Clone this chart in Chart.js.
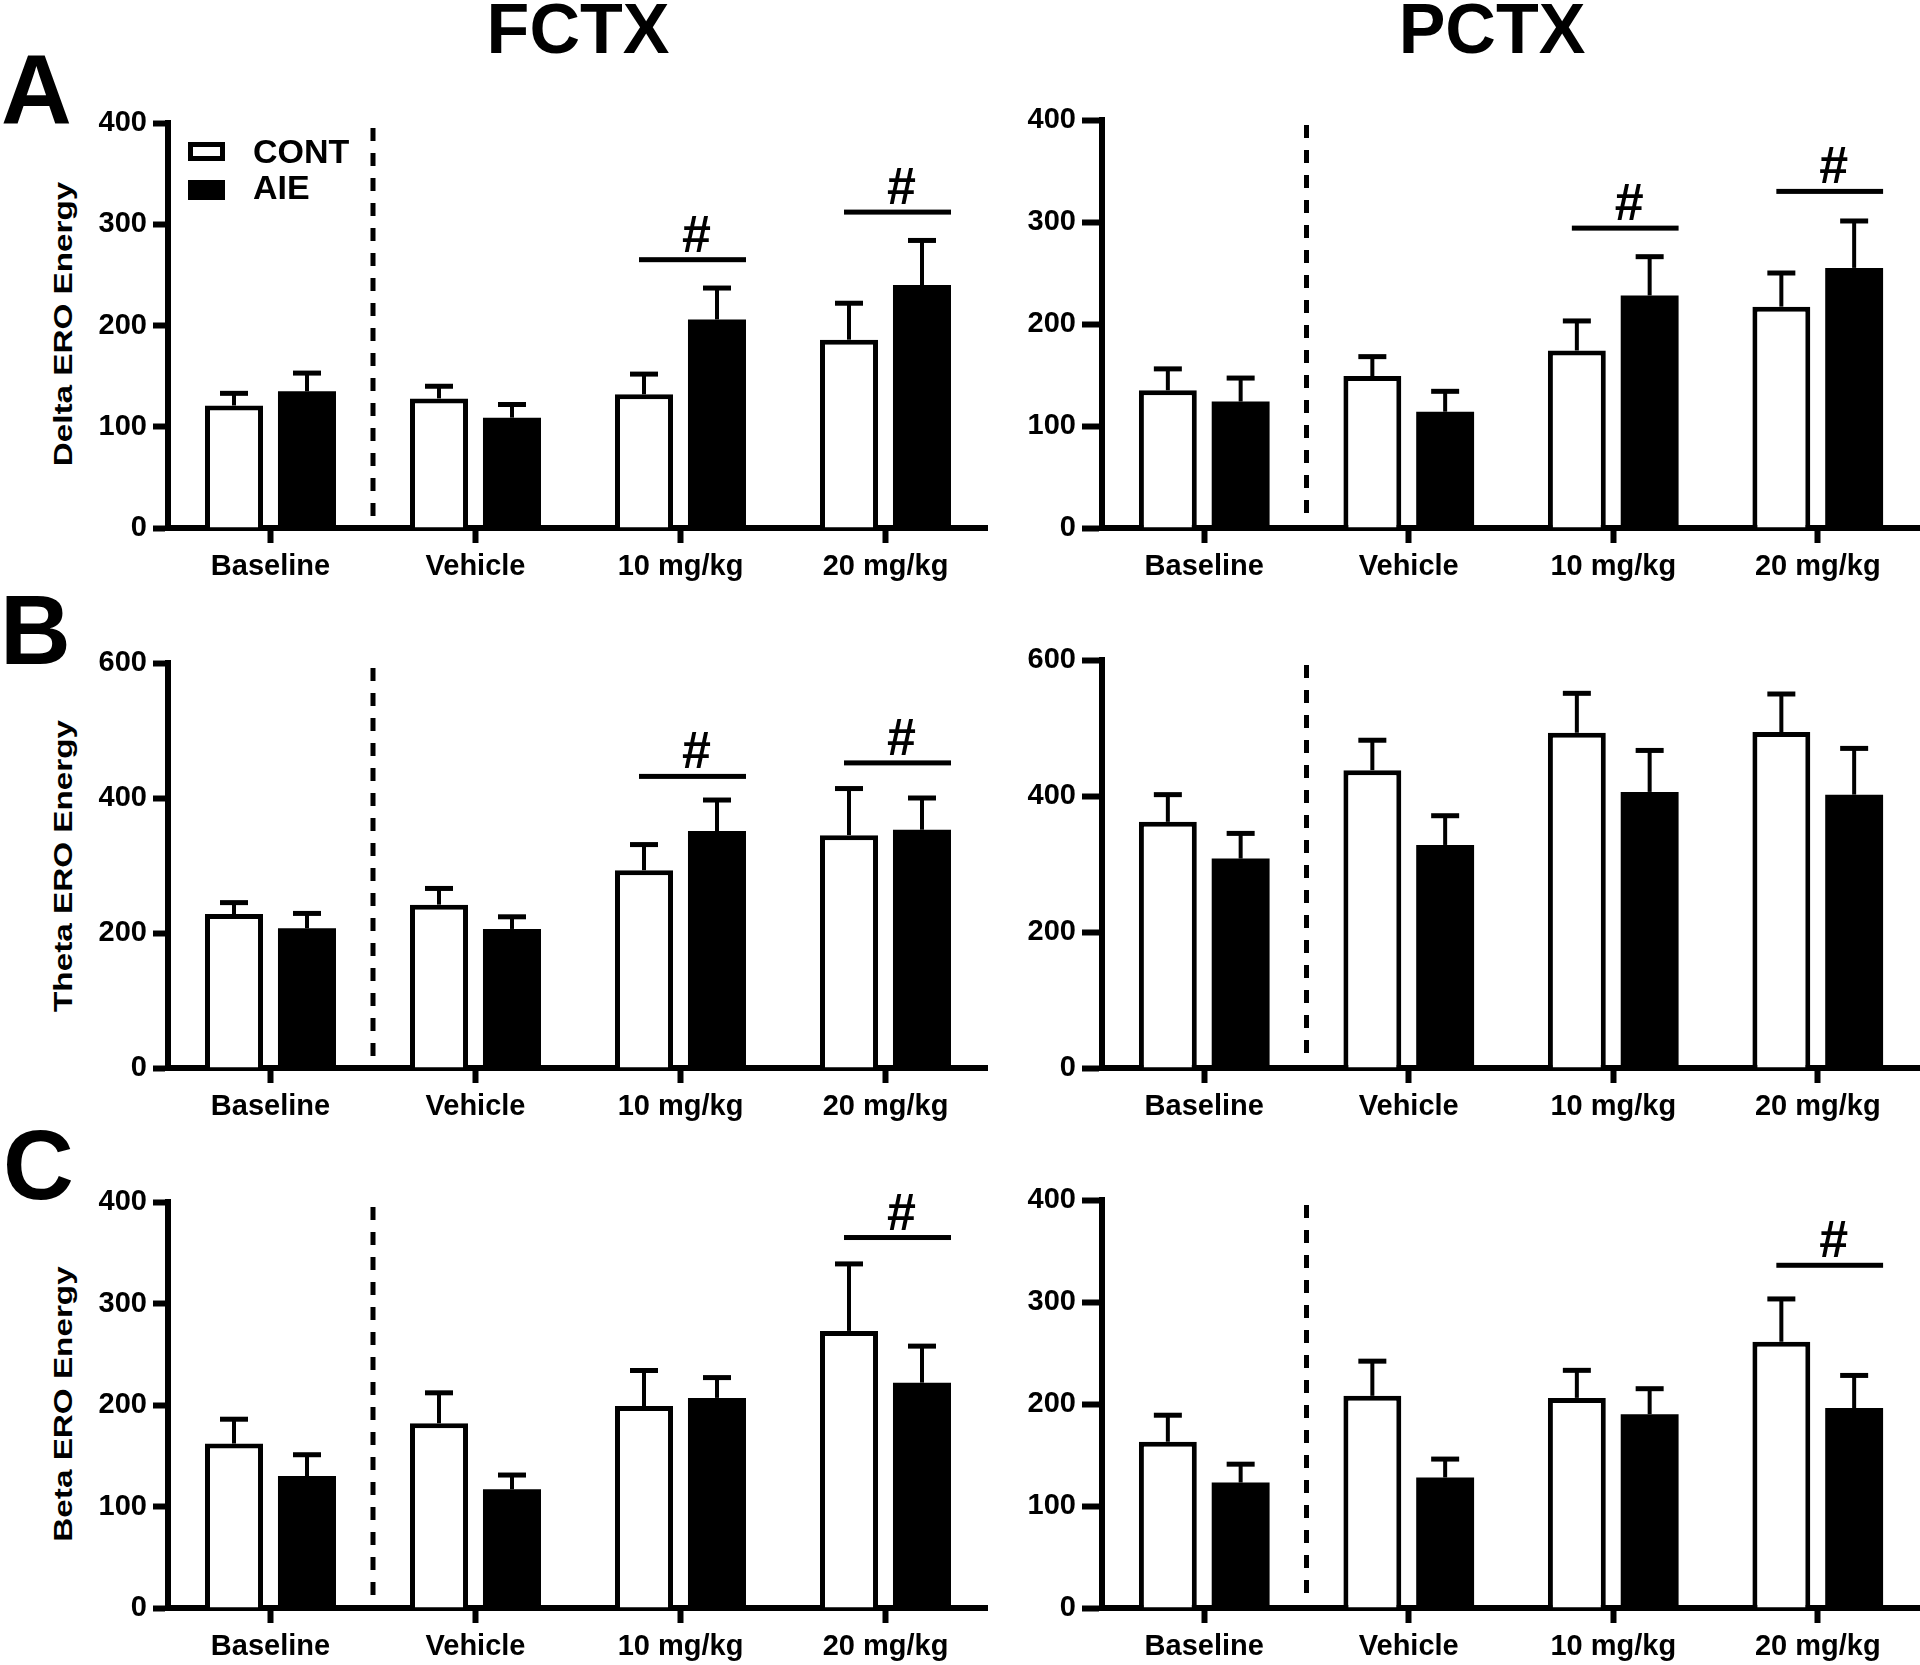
<!DOCTYPE html>
<html>
<head>
<meta charset="utf-8">
<script src="https://cdn.jsdelivr.net/npm/chart.js@4.4.1/dist/chart.umd.min.js"></script>
<style>
body { margin: 0; background: #fff; }
#page { position: relative; width: 1920px; height: 1665px; overflow: hidden; background: #fff;
  font-family: "Liberation Sans", Arial, sans-serif; font-weight: bold; color: #000; }
canvas { position: absolute; }
.txt { position: absolute; white-space: nowrap; line-height: 1; }
.ytitle { position: absolute; white-space: nowrap; font-size: 25px; line-height: 25px;
  transform: translate(-50%, -50%) rotate(-90deg) scaleX(1.33); }
.box { position: absolute; box-sizing: border-box; border: 5px solid #000; }
</style>
</head>
<body>
<div id="page">
  <canvas id="deltaF"></canvas>
  <canvas id="deltaP"></canvas>
  <canvas id="thetaF"></canvas>
  <canvas id="thetaP"></canvas>
  <canvas id="betaF"></canvas>
  <canvas id="betaP"></canvas>

  <div class="ytitle" style="left:63px; top:324px;">Delta ERO Energy</div>
  <div class="ytitle" style="left:63px; top:866px;">Theta ERO Energy</div>
  <div class="ytitle" style="left:63px; top:1404px;">Beta ERO Energy</div>

  <div class="box" style="left:188px; top:142px; width:37px; height:19px; background:#fff;"></div>
  <div class="box" style="left:188px; top:180px; width:37px; height:20px; background:#000;"></div>
</div>
<script>
const categories = ['Baseline', 'Vehicle', '10 mg/kg', '20 mg/kg'];
const groupNames = ['CONT', 'AIE'];

// Delta ERO energy
const deltaFctxCont = [121, 128, 132, 186];
const deltaFctxContErr = [12, 12, 20, 36];
const deltaFctxAie = [135, 109, 206, 240];
const deltaFctxAieErr = [18, 13, 31, 44];
const deltaFctxSigAt = [2, 3];
const deltaFctxSigY = [265, 312];

const deltaPctxCont = [135, 149, 174, 217];
const deltaPctxContErr = [21, 19, 29, 33];
const deltaPctxAie = [124, 114, 228, 255];
const deltaPctxAieErr = [23, 20, 38, 46];
const deltaPctxSigAt = [2, 3];
const deltaPctxSigY = [294, 330];

// Theta ERO energy
const thetaFctxCont = [228, 242, 293, 345];
const thetaFctxContErr = [17, 24, 38, 69];
const thetaFctxAie = [207, 206, 351, 353];
const thetaFctxAieErr = [22, 18, 46, 47];
const thetaFctxSigAt = [2, 3];
const thetaFctxSigY = [432, 452];

const thetaPctxCont = [362, 438, 493, 494];
const thetaPctxContErr = [40, 44, 58, 56];
const thetaPctxAie = [308, 328, 406, 402];
const thetaPctxAieErr = [37, 43, 61, 68];
const thetaPctxSigAt = [];
const thetaPctxSigY = [];

// Beta ERO energy
const betaFctxCont = [162, 182, 199, 273];
const betaFctxContErr = [24, 30, 35, 66];
const betaFctxAie = [130, 117, 207, 222];
const betaFctxAieErr = [21, 14, 20, 36];
const betaFctxSigAt = [3];
const betaFctxSigY = [365];

const betaPctxCont = [163, 208, 206, 261];
const betaPctxContErr = [26, 34, 27, 42];
const betaPctxAie = [123, 128, 190, 196];
const betaPctxAieErr = [18, 18, 25, 32];
const betaPctxSigAt = [3];
const betaPctxSigY = [336];

const yMaxDelta = 400, yStepDelta = 100;
const yMaxTheta = 600, yStepTheta = 200;
const yMaxBeta = 400, yStepBeta = 100;

const FONT = '"Liberation Sans", Arial, sans-serif';
const page = document.getElementById('page');

/* texte en HTML, placé par sa ligne de base */
function texte(t, x, base, size, centre) {
  const d = document.createElement('div');
  d.className = 'txt';
  d.textContent = t;
  d.style.fontSize = size + 'px';
  d.style.top = (base - 0.8465 * size) + 'px';
  d.style.left = x + 'px';
  if (centre) d.style.transform = 'translateX(-50%)';
  page.appendChild(d);
}
texte('FCTX', 578, 53, 70, true);
texte('PCTX', 1492, 53, 70, true);
texte('A', 1, 123, 98, false);
texte('B', 0, 664, 98, false);
texte('C', 3, 1199, 98, false);
texte(groupNames[0], 253, 163, 34, false);
texte(groupNames[1], 253, 199, 34, false);

/* barres d'erreur (vers le haut seulement) */
const errorBars = {
  id: 'errorBars',
  afterDatasetsDraw(chart) {
    const ctx = chart.ctx, y = chart.scales.y;
    chart.data.datasets.forEach((ds, di) => {
      const meta = chart.getDatasetMeta(di);
      meta.data.forEach((bar, i) => {
        const top = y.getPixelForValue(ds.data[i] + ds.errors[i]);
        ctx.save();
        ctx.strokeStyle = '#000';
        ctx.lineWidth = 4;
        ctx.beginPath();
        ctx.moveTo(bar.x, bar.y);
        ctx.lineTo(bar.x, top);
        ctx.stroke();
        ctx.lineWidth = 5;
        ctx.beginPath();
        ctx.moveTo(bar.x - 14, top);
        ctx.lineTo(bar.x + 14, top);
        ctx.stroke();
        ctx.restore();
      });
    });
  }
};

/* # et trait de significativité */
const sigMarks = {
  id: 'sigMarks',
  afterDatasetsDraw(chart, args, opts) {
    const ctx = chart.ctx, y = chart.scales.y;
    const m0 = chart.getDatasetMeta(0), m1 = chart.getDatasetMeta(1);
    (opts.at || []).forEach((g, k) => {
      const a = m0.data[g], b = m1.data[g];
      const x1 = a.x - 5, x2 = b.x + b.width / 2;
      const py = y.getPixelForValue(opts.level[k]);
      ctx.save();
      ctx.fillStyle = '#000';
      ctx.fillRect(x1, py - 2.5, x2 - x1, 5);
      ctx.font = 'bold 52px ' + FONT;
      ctx.textAlign = 'center';
      ctx.textBaseline = 'alphabetic';
      ctx.fillText('#', (x1 + x2) / 2 + 4, py - 8);
      ctx.restore();
    });
  }
};

/* ligne pointillée entre Baseline et Vehicle */
const divider = {
  id: 'divider',
  afterDatasetsDraw(chart) {
    const ctx = chart.ctx;
    const x = chart.scales.x.getPixelForValue(0.5);
    const area = chart.chartArea;
    ctx.save();
    ctx.strokeStyle = '#000';
    ctx.lineWidth = 5;
    ctx.setLineDash([13, 12]);
    ctx.beginPath();
    ctx.moveTo(x, area.top + 5);
    ctx.lineTo(x, area.bottom - 6);
    ctx.stroke();
    ctx.restore();
  }
};

function graphique(id, left, yAxisW, chartTop, chartBottom, chartW, yMax, yStep, tickLen, cont, contErr, aie, aieErr, sigAt, sigY) {
  const cv = document.getElementById(id);
  const padTop = 25, xAxisH = 57;
  cv.width = yAxisW + chartW;
  cv.height = padTop + (chartBottom - chartTop) + xAxisH;
  cv.style.left = left + 'px';
  cv.style.top = (chartTop - padTop) + 'px';

  const tickFont = { family: FONT, size: 29, weight: 'bold' };
  return new Chart(cv.getContext('2d'), {
    type: 'bar',
    data: {
      labels: categories,
      datasets: [
        { label: groupNames[0], data: cont, errors: contErr, backgroundColor: '#fff', borderColor: '#000', borderWidth: 5 },
        { label: groupNames[1], data: aie, errors: aieErr, backgroundColor: '#000', borderColor: '#000', borderWidth: 0 }
      ]
    },
    options: {
      responsive: false,
      animation: false,
      devicePixelRatio: 1,
      categoryPercentage: 0.712,
      barPercentage: 0.795,
      layout: { padding: { top: padTop, right: 0, left: 0, bottom: 0 } },
      plugins: {
        legend: { display: false },
        tooltip: { enabled: false },
        sigMarks: { at: sigAt, level: sigY }
      },
      scales: {
        x: {
          offset: true,
          grid: { offset: false, drawOnChartArea: false, tickLength: 15, tickWidth: 6, tickColor: '#000', color: '#000' },
          border: { display: true, color: '#000', width: 6 },
          ticks: { font: tickFont, color: '#000', padding: 7, maxRotation: 0, autoSkip: false },
          afterFit: (s) => { s.height = xAxisH; }
        },
        y: {
          min: 0,
          max: yMax,
          grid: { drawOnChartArea: false, tickLength: tickLen, tickWidth: 6, tickColor: '#000', color: '#000' },
          border: { display: true, color: '#000', width: 6 },
          ticks: { stepSize: yStep, font: tickFont, color: '#000', padding: 6 },
          afterFit: (s) => { s.width = yAxisW; }
        }
      }
    },
    plugins: [errorBars, sigMarks, divider]
  });
}

graphique('deltaF', 80, 88, 123, 528, 820, yMaxDelta, yStepDelta, 15, deltaFctxCont, deltaFctxContErr, deltaFctxAie, deltaFctxAieErr, deltaFctxSigAt, deltaFctxSigY);
graphique('deltaP', 1000, 102, 120, 528, 818, yMaxDelta, yStepDelta, 20, deltaPctxCont, deltaPctxContErr, deltaPctxAie, deltaPctxAieErr, deltaPctxSigAt, deltaPctxSigY);
graphique('thetaF', 80, 88, 663, 1068, 820, yMaxTheta, yStepTheta, 15, thetaFctxCont, thetaFctxContErr, thetaFctxAie, thetaFctxAieErr, thetaFctxSigAt, thetaFctxSigY);
graphique('thetaP', 1000, 102, 660, 1068, 818, yMaxTheta, yStepTheta, 20, thetaPctxCont, thetaPctxContErr, thetaPctxAie, thetaPctxAieErr, thetaPctxSigAt, thetaPctxSigY);
graphique('betaF', 80, 88, 1202, 1608, 820, yMaxBeta, yStepBeta, 15, betaFctxCont, betaFctxContErr, betaFctxAie, betaFctxAieErr, betaFctxSigAt, betaFctxSigY);
graphique('betaP', 1000, 102, 1200, 1608, 818, yMaxBeta, yStepBeta, 20, betaPctxCont, betaPctxContErr, betaPctxAie, betaPctxAieErr, betaPctxSigAt, betaPctxSigY);
</script>
</body>
</html>
